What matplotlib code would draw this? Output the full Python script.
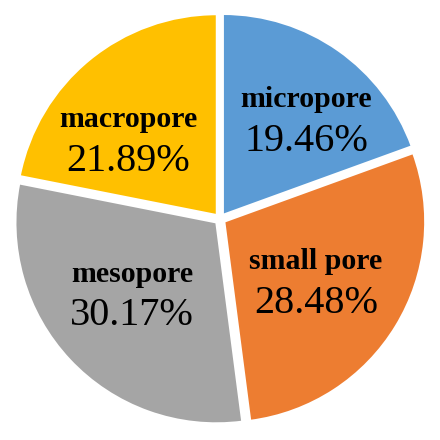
import numpy as np
import matplotlib.pyplot as plt

# pore size distribution
pore_types = ["micropore", "small pore", "mesopore", "macropore"]
shares = [19.46, 28.48, 30.17, 21.89]
colors = ["#5B9BD5", "#ED7D31", "#A5A5A5", "#FFC000"]

# where the data labels sit (radius, angle in degrees)
label_r = [0.657, 0.569, 0.575, 0.607]
label_ang = [49.3, -32.8, 220.4, 139.0]

plt.rcParams['font.family'] = ['Liberation Serif', 'DejaVu Serif']

fig = plt.figure(figsize=(4.4, 4.4), dpi=100)
ax = fig.add_axes([0, 0, 1, 1])

wedges, _ = ax.pie(shares, colors=colors, startangle=90, counterclock=False,
                   explode=[0.025] * len(shares),
                   wedgeprops=dict(edgecolor='white', linewidth=1.5))

for name, val, r, a in zip(pore_types, shares, label_r, label_ang):
    x = r * np.cos(np.deg2rad(a))
    y = r * np.sin(np.deg2rad(a))
    ax.text(x, y + 0.095, name, ha='center', va='center', fontsize=21.5, fontweight='bold')
    ax.text(x, y - 0.11, f"{val:.2f}%", ha='center', va='center', fontsize=29)

ax.set_xlim(-1.095, 1.095)
ax.set_ylim(-1.100, 1.090)
ax.set_aspect('equal')
ax.axis('off')

plt.savefig("out.png", dpi=100)
